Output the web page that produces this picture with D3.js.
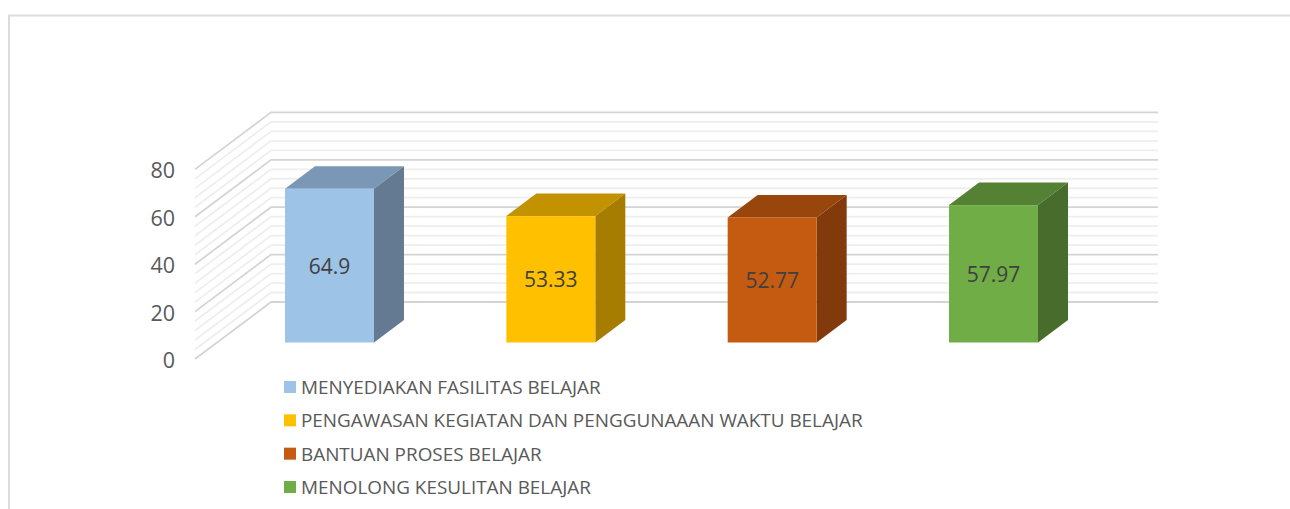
<!DOCTYPE html>
<html>
<head>
<meta charset="utf-8">
<script src="https://cdn.jsdelivr.net/npm/d3@7"></script>
<style>
  html, body { margin: 0; padding: 0; background: #fff; overflow: hidden; }
  text { font-family: "Open Sans", sans-serif; }
</style>
</head>
<body>
<svg id="chart" width="1290" height="509"></svg>
<script>
const categories = [
  "MENYEDIAKAN FASILITAS BELAJAR",
  "PENGAWASAN KEGIATAN DAN PENGGUNAAAN WAKTU BELAJAR",
  "BANTUAN PROSES BELAJAR",
  "MENOLONG KESULITAN BELAJAR"
];
const values = [64.9, 53.33, 52.77, 57.97];
const valueLabels = ["64.9", "53.33", "52.77", "57.97"];
const yTicks = [0, 20, 40, 60, 80];
const gridValues = [0, 4, 8, 12, 16, 20, 24, 28, 32, 36, 40, 44, 48, 52, 56, 60, 64, 68, 72, 76, 80];
const frontColors = ["#9DC3E6", "#FFC000", "#C55A11", "#70AD47"];
const topColors = ["#7A97B6", "#C29200", "#99460D", "#558135"];
const sideColors = ["#647A93", "#A67D00", "#82390B", "#486C2C"];

const svg = d3.select("#chart");

// outer frame, only top and left show
svg.append("path")
  .attr("d", "M9,509V15.5H1290")
  .attr("fill", "none")
  .attr("stroke", "#dcdcdc")
  .attr("stroke-width", 2);

// 3d box geometry
const wallDepth = { x: 76, y: -57 };
const barDepth = { x: 30, y: -22.5 };
const frontZero = 359;
const barZero = 342.5;
const unit = 2.37;

const yScale = d3.scaleLinear().domain([0, 80]).range([0, -80 * unit]);
const xScale = d3.scaleBand()
  .domain(categories)
  .range([285, 1038])
  .paddingInner(0.598)
  .paddingOuter(0);

// grid on side wall and back wall
const grid = svg.append("g").attr("fill", "none");
gridValues.forEach(v => {
  const major = v % 20 === 0;
  const yFront = frontZero + yScale(v);
  const yBack = yFront + wallDepth.y;
  grid.append("path")
    .attr("d", `M195,${yFront}L${195 + wallDepth.x},${yBack}H1158`)
    .attr("stroke", major ? "#d4d4d4" : "#eeeeee")
    .attr("stroke-width", 1.8);
});

// axis labels
svg.append("g").selectAll("text")
  .data(yTicks)
  .join("text")
  .attr("x", 175)
  .attr("y", d => frontZero + yScale(d) + 9)
  .attr("text-anchor", "end")
  .attr("fill", "#595959")
  .style("font-size", "21.5px")
  .text(d => d);

// bars
const bars = svg.append("g").selectAll("g")
  .data(categories)
  .join("g");

bars.each(function (c, i) {
  const g = d3.select(this);
  const x0 = xScale(c);
  const x1 = x0 + xScale.bandwidth();
  const yTop = barZero + yScale(values[i]);

  g.append("path")
    .attr("d", `M${x0},${yTop}L${x0 + barDepth.x},${yTop + barDepth.y}H${x1 + barDepth.x}L${x1},${yTop}Z`)
    .attr("fill", topColors[i]);
  g.append("path")
    .attr("d", `M${x1},${yTop}L${x1 + barDepth.x},${yTop + barDepth.y}V${barZero + barDepth.y}L${x1},${barZero}Z`)
    .attr("fill", sideColors[i]);
  g.append("rect")
    .attr("x", x0)
    .attr("y", yTop)
    .attr("width", xScale.bandwidth())
    .attr("height", barZero - yTop)
    .attr("fill", frontColors[i]);
  g.append("text")
    .attr("x", (x0 + x1) / 2)
    .attr("y", (yTop + barZero) / 2 + 8)
    .attr("text-anchor", "middle")
    .attr("fill", "#404040")
    .style("font-size", "21px")
    .text(valueLabels[i]);
});

// legend
const legendY = d3.scalePoint().domain(categories).range([387, 487]);
const legend = svg.append("g").selectAll("g")
  .data(categories)
  .join("g")
  .attr("transform", d => `translate(284,${legendY(d)})`);

legend.append("rect")
  .attr("y", -6)
  .attr("width", 12)
  .attr("height", 12)
  .attr("fill", (d, i) => frontColors[i]);

legend.append("text")
  .attr("x", 17)
  .attr("y", 7)
  .attr("fill", "#595959")
  .style("font-size", "18.9px")
  .text(d => d);
</script>
</body>
</html>
